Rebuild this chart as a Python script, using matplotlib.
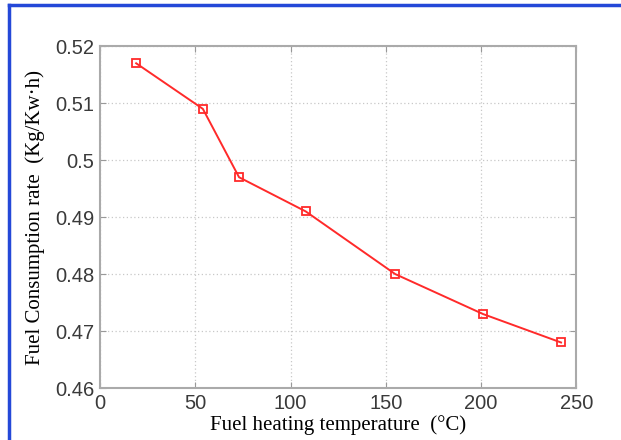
import matplotlib
matplotlib.use("Agg")
import matplotlib.pyplot as plt
from matplotlib.lines import Line2D

# 燃油加热温度 vs 燃油消耗率
temperature = [19, 54, 73, 108, 155, 201, 242]
consumption = [0.517, 0.509, 0.497, 0.491, 0.480, 0.473, 0.468]
xticks = [0, 50, 100, 150, 200, 250]
yticks = [0.46, 0.47, 0.48, 0.49, 0.50, 0.51, 0.52]
ytick_labels = ["0.46", "0.47", "0.48", "0.49", "0.5", "0.51", "0.52"]

fig = plt.figure(figsize=(6.21, 4.4), dpi=100, facecolor="w")
ax = fig.add_axes([0.161, 0.118, 0.767, 0.777])

ax.plot(temperature, consumption, color="#ff2a2a", lw=1.4,
        marker="s", ms=5.5, mfc="none", mec="#ff2a2a", mew=1.3)

ax.set_xlim(0, 250)
ax.set_ylim(0.46, 0.52)
ax.set_xticks(xticks)
ax.set_yticks(yticks)
ax.set_yticklabels(ytick_labels)
ax.grid(True, ls=(0, (1, 2)), color="#c8c8c8", lw=0.9)
ax.tick_params(direction="in", length=4, color="#999999",
               labelsize=14.5, labelcolor="#3a3a3a", pad=4,
               top=True, right=True)
for lbl in ax.get_xticklabels() + ax.get_yticklabels():
    lbl.set_family("Liberation Sans")
for s in ax.spines.values():
    s.set_color("#aaaaaa")
    s.set_linewidth(1.5)

ax.set_xlabel("Fuel heating temperature  (°C)", family="Liberation Serif",
              fontsize=15, labelpad=2)
ax.set_ylabel("Fuel Consumption rate  (Kg/Kw·h)", family="Liberation Serif",
              fontsize=15, labelpad=7)

# 蓝色边框
fig.add_artist(Line2D([0.014, 1.0], [0.988, 0.988], color="#2448d8", lw=2.5))
fig.add_artist(Line2D([0.015, 0.015], [0.0, 0.988], color="#2448d8", lw=2.5))

plt.savefig("out.png", dpi=100, facecolor="w")
